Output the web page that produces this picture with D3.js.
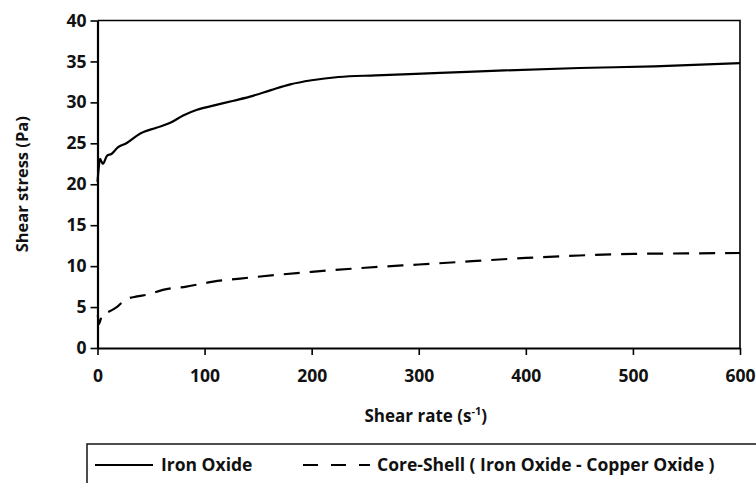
<!DOCTYPE html>
<html>
<head>
<meta charset="utf-8">
<script src="https://cdn.jsdelivr.net/npm/d3@7/dist/d3.min.js"></script>
<style>
  body { margin: 0; background: #fff; }
  svg { display: block; font-family: "Open Sans", sans-serif; font-weight: 700; }
</style>
</head>
<body>
<svg width="756" height="483"></svg>
<script>
// shear rate (s-1) vs shear stress (Pa)
let ironX = [0, 1, 2.3, 5, 9, 13, 19, 27, 40, 55, 68, 80, 93, 108, 127, 145, 162, 180, 200, 225, 260, 320, 380, 450, 520, 600];
let ironY = [20.3, 21.8, 23.1, 22.5, 23.5, 23.7, 24.5, 25, 26.2, 26.9, 27.5, 28.4, 29.1, 29.6, 30.2, 30.8, 31.5, 32.2, 32.7, 33.1, 33.3, 33.6, 33.9, 34.2, 34.4, 34.8];

let csX = [0.3, 1.2, 4.5, 10, 18, 26, 37, 46, 61, 83, 108, 142, 200, 250, 300, 350, 400, 450, 500, 550, 600];
let csY = [4.0, 2.9, 4.1, 4.4, 5.0, 5.9, 6.3, 6.5, 7.1, 7.5, 8.1, 8.6, 9.3, 9.8, 10.2, 10.6, 11.0, 11.3, 11.5, 11.55, 11.6];

let xTicks = [0, 100, 200, 300, 400, 500, 600];
let yTicks = [0, 5, 10, 15, 20, 25, 30, 35, 40];

let seriesNames = ["Iron Oxide", "Core-Shell ( Iron Oxide - Copper Oxide )"];
let dashes = [null, "16,10"];

let series = [
  ironX.map((x, i) => [x, ironY[i]]),
  csX.map((x, i) => [x, csY[i]])
];

var margin = { top: 20.5, right: 16, bottom: 135, left: 97.5 };
var width = 756 - margin.left - margin.right;
var height = 483 - margin.top - margin.bottom;

var svg = d3.select("svg")
  .append("g")
  .attr("transform", "translate(" + margin.left + "," + margin.top + ")");

var xScale = d3.scaleLinear().domain([0, 600]).range([0, width]);
var yScale = d3.scaleLinear().domain([0, 40]).range([height, 0]);

// frame on top and right
svg.append("path")
  .attr("d", "M0,0H" + width + "V" + height)
  .attr("fill", "none")
  .attr("stroke", "#000")
  .attr("stroke-width", 1.6);

var xAxis = d3.axisBottom(xScale).tickValues(xTicks).tickSize(7).tickSizeOuter(0);
var yAxis = d3.axisLeft(yScale).tickValues(yTicks).tickSize(7).tickSizeOuter(0);

var gx = svg.append("g")
  .attr("transform", "translate(0," + height + ")")
  .call(xAxis);
var gy = svg.append("g").call(yAxis);

[gx, gy].forEach(g => {
  g.select(".domain").attr("stroke-width", 2.2);
  g.selectAll(".tick line").attr("stroke-width", 1.6);
  g.selectAll(".tick text")
    .attr("font-family", "Open Sans")
    .attr("font-weight", 700)
    .attr("font-size", "17.5px")
    .attr("fill", "#111");
});
gx.selectAll(".tick text").attr("y", 22);
gy.selectAll(".tick text").attr("x", -11);

// axis titles
var xt = svg.append("text")
  .attr("x", width / 2 + 7)
  .attr("y", height + 74)
  .attr("text-anchor", "middle")
  .attr("font-size", "17px")
  .attr("fill", "#111")
  .text("Shear rate (s");
xt.append("tspan").attr("baseline-shift", "super").attr("font-size", "11px").text("-1");
xt.append("tspan").text(")");

svg.append("text")
  .attr("transform", "translate(-69.5," + height / 2 + ") rotate(-90)")
  .attr("text-anchor", "middle")
  .attr("font-size", "16.5px")
  .attr("fill", "#111")
  .text("Shear stress (Pa)");

var line = d3.line()
  .curve(d3.curveMonotoneX)
  .x(d => xScale(d[0]))
  .y(d => yScale(d[1]));

svg.selectAll(".line")
  .data(series)
  .enter()
  .append("path")
  .attr("class", "line")
  .attr("d", d => line(d))
  .attr("fill", "none")
  .attr("stroke", "#000")
  .attr("stroke-width", 2.2)
  .attr("stroke-dasharray", (d, i) => dashes[i]);

// legend box, runs off the bottom right of the picture
var legend = d3.select("svg").append("g");
legend.append("rect")
  .attr("x", 87)
  .attr("y", 444)
  .attr("width", 700)
  .attr("height", 80)
  .attr("fill", "none")
  .attr("stroke", "#222")
  .attr("stroke-width", 1.6);

var legendX = [95, 303];
var items = legend.selectAll(".item")
  .data(seriesNames)
  .enter()
  .append("g")
  .attr("class", "item")
  .attr("transform", (d, i) => "translate(" + legendX[i] + ",465)");

items.append("line")
  .attr("x1", 0)
  .attr("x2", (d, i) => i == 0 ? 58 : 67)
  .attr("stroke", "#000")
  .attr("stroke-width", 2.2)
  .attr("stroke-dasharray", (d, i) => i == 0 ? null : "15,13");

items.append("text")
  .attr("x", (d, i) => i == 0 ? 66 : 74)
  .attr("y", 6)
  .attr("font-size", "17.5px")
  .attr("fill", "#111")
  .text(d => d);
</script>
</body>
</html>
